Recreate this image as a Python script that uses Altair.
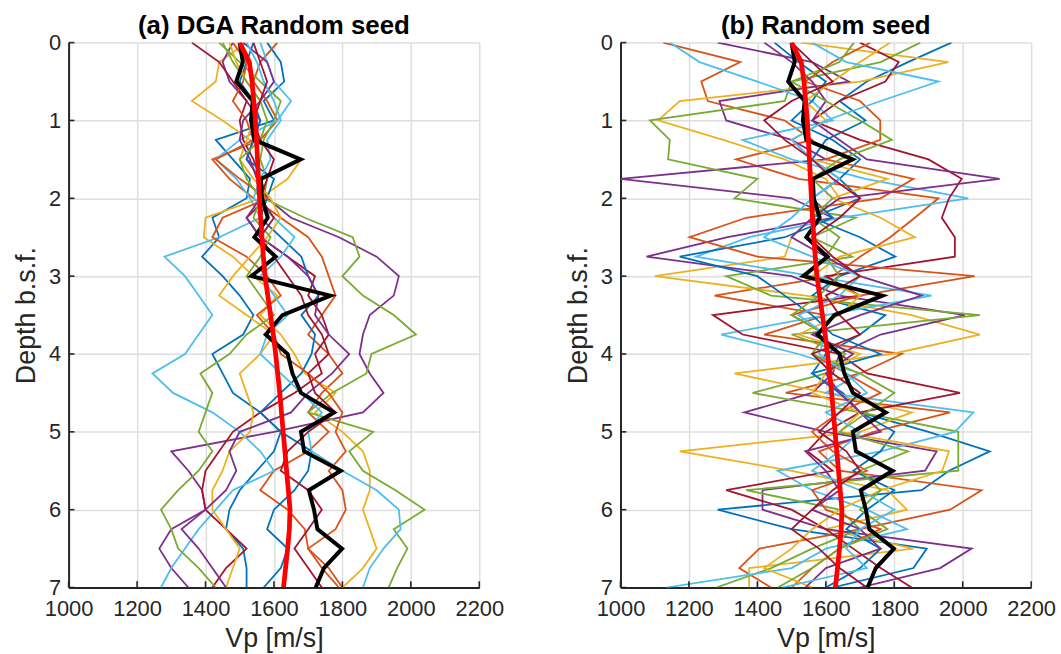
import altair as alt
import pandas as pd

DEPTH = [i * 0.25 for i in range(29)]
X_TICKS = [1000, 1200, 1400, 1600, 1800, 2000, 2200]
Y_TICKS = [0, 1, 2, 3, 4, 5, 6, 7]

BLUE, ORANGE, YELLOW, PURPLE, GREEN, CYAN, DARKRED = (
    "#0072BD", "#D95319", "#EDB120", "#7E2F8E", "#77AC30", "#4DBEEE", "#A2142F")

BLACK_LINE = [1500, 1509, 1490, 1538, 1533, 1543, 1678, 1562, 1565, 1582, 1543, 1605, 1534, 1765, 1625,
              1576, 1640, 1654, 1679, 1775, 1679, 1688, 1795, 1702, 1717, 1727, 1799, 1746, 1722]
RED_LINE = [1500, 1528, 1536, 1541, 1546, 1549, 1552, 1555, 1558, 1561, 1565, 1569, 1574, 1582, 1590,
            1598, 1605, 1611, 1617, 1622, 1627, 1632, 1637, 1642, 1647, 1645, 1640, 1634, 1628]

# panel (a) DGA random seed realisations
A_BLUE_1 = [1580, 1620, 1630, 1570, 1600, 1430, 1480, 1530, 1520, 1420, 1440, 1390, 1450, 1500, 1540,
            1510, 1420, 1450, 1480, 1560, 1620, 1600, 1550, 1500, 1470, 1460, 1510, 1520, 1520]
A_BLUE_2 = [1540, 1520, 1500, 1540, 1560, 1540, 1520, 1600, 1580, 1560, 1620, 1680, 1700, 1730, 1680,
            1720, 1710, 1680, 1620, 1560, 1620, 1710, 1700, 1660, 1600, 1580, 1640, 1620, 1570]
A_ORANGE_1 = [1610, 1560, 1540, 1580, 1610, 1560, 1420, 1470, 1540, 1620, 1700, 1740, 1760, 1780, 1740,
              1700, 1760, 1800, 1740, 1700, 1760, 1700, 1600, 1560, 1640, 1690, 1700, 1760, 1800]
A_ORANGE_2 = [1480, 1520, 1510, 1480, 1520, 1540, 1430, 1500, 1580, 1450, 1420, 1520, 1580, 1620, 1550,
              1600, 1620, 1700, 1760, 1800, 1780, 1810, 1760, 1800, 1810, 1780, 1700, 1740, 1790]
A_YELLOW_1 = [1520, 1440, 1430, 1360, 1450, 1530, 1680, 1640, 1560, 1400, 1395, 1480, 1540, 1610, 1560,
              1620, 1660, 1690, 1780, 1720, 1800, 1860, 1880, 1880, 1860, 1880, 1900, 1860, 1800]
A_YELLOW_2 = [1470, 1490, 1520, 1560, 1540, 1520, 1500, 1540, 1590, 1620, 1580, 1530, 1480, 1440, 1520,
              1600, 1560, 1500, 1520, 1540, 1530, 1470, 1450, 1420, 1420, 1460, 1500, 1480, 1460]
A_PURPLE_1 = [1480, 1450, 1470, 1520, 1560, 1540, 1520, 1560, 1580, 1650, 1790, 1900, 1965, 1950, 1880,
              1860, 1850, 1880, 1920, 1860, 1600, 1300, 1350, 1390, 1400, 1300, 1265, 1300, 1350]
A_PURPLE_2 = [1510, 1580, 1600, 1560, 1510, 1500, 1530, 1550, 1560, 1520, 1560, 1640, 1700, 1730, 1720,
              1760, 1820, 1770, 1700, 1650, 1500, 1470, 1490, 1460, 1400, 1330, 1380, 1420, 1460]
A_GREEN_1 = [1440, 1500, 1560, 1620, 1600, 1570, 1560, 1580, 1570, 1690, 1830, 1850, 1800, 1860, 1950,
             2015, 1885, 1870, 1770, 1700, 1890, 1820, 1860, 1955, 2040, 1950, 1990, 1960, 1935]
A_GREEN_2 = [1450, 1480, 1520, 1560, 1580, 1560, 1500, 1520, 1560, 1540, 1590, 1560, 1520, 1560, 1600,
             1520, 1470, 1385, 1420, 1400, 1380, 1420, 1380, 1320, 1270, 1300, 1320, 1380, 1430]
A_CYAN_1 = [1560, 1580, 1600, 1650, 1610, 1500, 1430, 1490, 1530, 1560, 1440, 1280, 1340, 1380, 1420,
            1380, 1340, 1245, 1305, 1420, 1500, 1560, 1600, 1480, 1430, 1380, 1340, 1300, 1270]
A_CYAN_2 = [1520, 1550, 1570, 1600, 1620, 1580, 1590, 1560, 1540, 1600, 1660, 1620, 1560, 1600, 1640,
            1580, 1560, 1620, 1680, 1740, 1700, 1710, 1800, 1900, 1965, 1970, 1920, 1880, 1860]
A_DARKRED_1 = [1360, 1440, 1480, 1520, 1500, 1510, 1540, 1560, 1580, 1520, 1560, 1640, 1720, 1700, 1740,
               1760, 1720, 1740, 1660, 1560, 1480, 1440, 1400, 1390, 1400, 1460, 1520, 1460, 1420]
A_DARKRED_2 = [1540, 1560, 1580, 1560, 1540, 1560, 1600, 1580, 1560, 1600, 1560, 1600, 1640, 1680, 1700,
               1740, 1760, 1700, 1720, 1780, 1700, 1640, 1620, 1700, 1740, 1700, 1660, 1700, 1740]

# panel (b) random seed realisations
B_BLUE_1 = [1967, 1840, 1720, 1640, 1716, 1600, 1560, 1640, 1700, 1560, 1700, 1803, 1640, 1560, 1774,
            1700, 1600, 1560, 1650, 1700, 1900, 2079, 1960, 1880, 1284, 1500, 1895, 1856, 1620]
B_BLUE_2 = [1450, 1520, 1600, 1560, 1500, 1620, 1700, 1640, 1560, 1620, 1480, 1173, 1400, 1480, 1560,
            1620, 1760, 1560, 1640, 1700, 1800, 1760, 1680, 1800, 1720, 1660, 1760, 1700, 1600]
B_ORANGE_1 = [1125, 1350, 1236, 1255, 1480, 1560, 1338, 1520, 1929, 1860, 1788, 1700, 1620, 1275, 1600,
              1420, 1822, 1700, 1483, 1963, 1740, 1580, 1640, 2055, 1963, 1700, 1406, 1347, 1440]
B_ORANGE_2 = [1730, 1620, 1540, 1700, 1759, 1759, 1600, 1856, 1760, 1367, 1202, 1400, 2035, 1700, 1500,
              1600, 1560, 1660, 1760, 1640, 1560, 1620, 1720, 1560, 1600, 1760, 1640, 1560, 1500]
B_YELLOW_1 = [1527, 1958, 1700, 1173, 1110, 1300, 1480, 1600, 1640, 1560, 1500, 1480, 1100, 1540, 1851,
              2050, 1793, 1333, 1600, 1851, 1700, 1173, 1500, 1780, 1837, 1600, 1856, 1376, 1376]
B_YELLOW_2 = [1788, 1700, 1620, 1540, 1600, 1500, 1560, 1780, 1620, 1760, 1860, 1640, 1560, 1700, 1640,
              1520, 1700, 1600, 1560, 1700, 1640, 1960, 1940, 1760, 1640, 1560, 1500, 1420, 1560]
B_PURPLE_1 = [1284, 1560, 1667, 1289, 1309, 1500, 1600, 1000, 1500, 1620, 1313, 1076, 1500, 1640, 2006,
              1760, 1640, 1620, 1560, 1362, 1600, 1924, 1890, 1415, 1415, 1600, 2026, 1934, 1700]
B_PURPLE_2 = [1420, 1500, 1560, 1600, 1560, 1640, 1720, 2108, 1640, 1560, 1500, 1600, 1700, 1880, 1700,
              1560, 1680, 1600, 1640, 1700, 1760, 1540, 1600, 1640, 1560, 1700, 1760, 1600, 1540]
B_GREEN_1 = [1876, 1760, 1500, 1480, 1086, 1144, 1139, 1400, 1333, 1687, 1560, 1677, 1309, 1440, 2050,
             1500, 1657, 1600, 1386, 1700, 1987, 1987, 1987, 1367, 1640, 1700, 1560, 1440, 1280]
B_GREEN_2 = [1682, 1640, 1500, 1600, 1700, 1793, 1640, 1560, 1620, 1560, 1640, 1600, 1640, 1580, 1500,
             1600, 1560, 1700, 1800, 1720, 1640, 1840, 1700, 1760, 1700, 1780, 1640, 1560, 1460]
B_CYAN_1 = [1144, 1231, 1400, 1560, 1620, 1357, 1500, 1716, 2016, 1640, 1376, 1221, 1560, 1909, 1600,
            1294, 1520, 1700, 1600, 2031, 1977, 1760, 1459, 1560, 1720, 1837, 1600, 1500, 1134]
B_CYAN_2 = [1560, 1660, 1929, 1760, 1600, 1500, 1560, 1640, 1560, 1500, 1420, 1560, 1700, 1640, 1520,
            1600, 1580, 1660, 1720, 1600, 1700, 1640, 1560, 1700, 1800, 1700, 1660, 1720, 1473]
B_DARKRED_1 = [1700, 1813, 1774, 1640, 1560, 1700, 1900, 1997, 1960, 1939, 1977, 1977, 1600, 1700, 1270,
               1357, 1640, 1720, 1992, 1700, 1600, 1546, 1620, 1309, 1500, 1600, 1680, 1760, 1851]
B_DARKRED_2 = [1500, 1560, 1620, 1500, 1420, 1480, 1560, 1620, 1700, 1640, 1560, 1620, 1700, 1600, 1640,
               1700, 1560, 1620, 1700, 1640, 1580, 1660, 1700, 1620, 1560, 1500, 1580, 1640, 1720]

PANEL_A = [(A_BLUE_1, BLUE), (A_ORANGE_1, ORANGE), (A_YELLOW_1, YELLOW), (A_PURPLE_1, PURPLE),
           (A_GREEN_1, GREEN), (A_CYAN_1, CYAN), (A_DARKRED_1, DARKRED),
           (A_BLUE_2, BLUE), (A_ORANGE_2, ORANGE), (A_YELLOW_2, YELLOW), (A_PURPLE_2, PURPLE),
           (A_GREEN_2, GREEN), (A_CYAN_2, CYAN), (A_DARKRED_2, DARKRED)]
PANEL_B = [(B_BLUE_1, BLUE), (B_ORANGE_1, ORANGE), (B_YELLOW_1, YELLOW), (B_PURPLE_1, PURPLE),
           (B_GREEN_1, GREEN), (B_CYAN_1, CYAN), (B_DARKRED_1, DARKRED),
           (B_BLUE_2, BLUE), (B_ORANGE_2, ORANGE), (B_YELLOW_2, YELLOW), (B_PURPLE_2, PURPLE),
           (B_GREEN_2, GREEN), (B_CYAN_2, CYAN), (B_DARKRED_2, DARKRED)]

FONT = "Liberation Sans"
AXC = "#262626"


def lines_df(series):
    rows = []
    for k, (vals, col) in enumerate(series):
        for d, v in zip(DEPTH, vals):
            rows.append({"line": k, "col": col, "depth": d, "vp": v})
    return pd.DataFrame(rows)


def single_df(vals):
    return pd.DataFrame({"depth": DEPTH, "vp": vals})


xscale = alt.Scale(domain=[1000, 2200], nice=False, zero=False)
yscale = alt.Scale(domain=[0, 7], reverse=True, nice=False, zero=False)
xaxis = alt.Axis(values=X_TICKS, format="d", title="Vp [m/s]", labelFlush=False,
                 labelPadding=11, titlePadding=6, grid=True, ticks=False)
yaxis = alt.Axis(values=Y_TICKS, format="d", title="Depth b.s.f.", labelFlush=False,
                 labelPadding=8, titlePadding=8, grid=True, ticks=False)

xtick_df = pd.DataFrame({"vp": X_TICKS, "d0": [7] * len(X_TICKS), "d1": [6.92] * len(X_TICKS)})
ytick_df = pd.DataFrame({"depth": Y_TICKS, "v0": [1000] * len(Y_TICKS), "v1": [1017] * len(Y_TICKS)})


def panel(series, title):
    col = alt.Chart(lines_df(series)).mark_line(strokeWidth=1.8, clip=True).encode(
        x=alt.X("vp:Q", scale=xscale, axis=xaxis),
        y=alt.Y("depth:Q", scale=yscale, axis=yaxis),
        color=alt.Color("col:N", scale=None),
        detail="line:N",
        order="depth:Q",
    )
    blk = alt.Chart(single_df(BLACK_LINE)).mark_line(strokeWidth=4, color="black", clip=True).encode(
        x="vp:Q", y="depth:Q", order="depth:Q")
    red = alt.Chart(single_df(RED_LINE)).mark_line(strokeWidth=4.8, color="#FF0000", clip=True).encode(
        x="vp:Q", y="depth:Q", order="depth:Q")
    xt = alt.Chart(xtick_df).mark_rule(color=AXC, strokeWidth=1.6).encode(x="vp:Q", y="d0:Q", y2="d1:Q")
    yt = alt.Chart(ytick_df).mark_rule(color=AXC, strokeWidth=1.6).encode(y="depth:Q", x="v0:Q", x2="v1:Q")
    return alt.layer(col, blk, red, xt, yt).properties(
        width=413, height=548,
        title=alt.TitleParams(title, fontSize=26, font=FONT, fontWeight="bold", color="black", offset=-7),
    )


chart = alt.hconcat(panel(PANEL_A, "(a) DGA Random seed"), panel(PANEL_B, "(b) Random seed"),
                    spacing=60).properties(
    padding={"left": 12, "top": 11, "right": 5, "bottom": 2}
).configure_view(stroke=None).configure_axis(
    gridColor="#dedede", gridWidth=1.5, domainColor=AXC, domainWidth=2,
    labelFont=FONT, labelFontSize=22, labelColor=AXC,
    titleFont=FONT, titleFontSize=27, titleFontWeight="normal", titleColor=AXC,
)

chart.save("out.html", embed_options={"renderer": "svg", "actions": False})
